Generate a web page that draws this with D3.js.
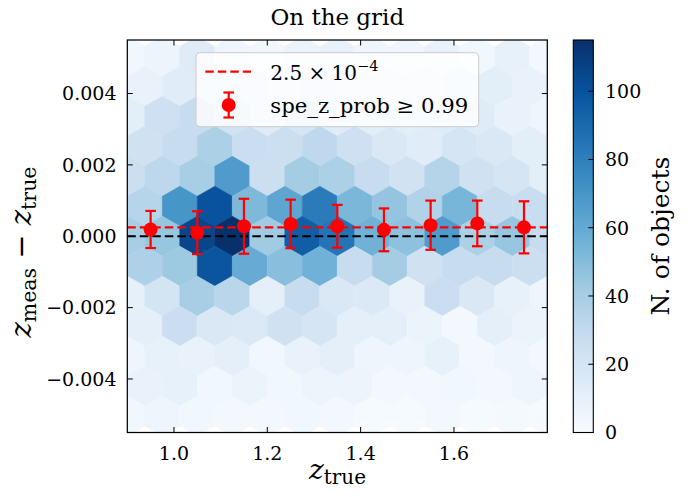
<!DOCTYPE html>
<html>
<head>
<meta charset="utf-8">
<script src="https://cdn.jsdelivr.net/npm/d3@7"></script>
<style>
  html, body { margin: 0; padding: 0; background: #ffffff; }
  svg { display: block; }
</style>
</head>
<body>
<svg id="chart" width="700" height="497"></svg>
<script>
// ---------------- data ----------------
const xTicks = [1.0, 1.2, 1.4, 1.6];
const yTicks = [0.004, 0.002, 0.0, -0.002, -0.004];
const cbarTicks = [0, 20, 40, 60, 80, 100];
const xDomain = [0.9, 1.8];
const yDomain = [-0.0055, 0.0055];
const countMax = 115;

// hexbin grid (data units)
const hexXMin = 0.9, hexXStep = 0.075;
const hexYMin = -0.00504, hexYStep = 0.00168;

// counts per hexagon row, from top row (k = 12) to bottom row (k = 0)
// even k: 13 cells at hexXMin + i*step ; odd k: 12 cells at hexXMin + (i+0.5)*step
const hexCounts = [
  [4, 6, 14, 5, 4, 7, 8, 5, 5, 8, 4, 9, 3],
  [8, 13, 12, 14, 10, 14, 10, 9, 11, 12, 12, 8],
  [12, 24, 28, 22, 14, 20, 14, 12, 12, 14, 14, 8, 5],
  [23, 28, 38, 26, 25, 31, 24, 17, 13, 20, 17, 12],
  [25, 32, 40, 67, 25, 41, 38, 28, 22, 35, 23, 20, 12],
  [34, 70, 100, 52, 62, 82, 53, 46, 36, 54, 28, 27],
  [40, 45, 106, 115, 42, 95, 85, 56, 48, 67, 38, 45, 28],
  [37, 43, 99, 59, 49, 56, 28, 41, 23, 28, 28, 25],
  [10, 21, 40, 33, 11, 28, 17, 16, 8, 26, 17, 9, 5],
  [11, 26, 17, 16, 23, 20, 11, 11, 7, 3, 11, 7],
  [5, 9, 8, 11, 4, 8, 11, 5, 5, 9, 3, 5, 3],
  [8, 9, 4, 7, 4, 6, 6, 3, 3, 4, 3, 5],
  [4, 5, 4, 3, 3, 4, 3, 1, 1, 3, 1, 2, 1]
];

// binned means with error bars
const pointX = [0.95, 1.05, 1.15, 1.25, 1.35, 1.45, 1.55, 1.65, 1.75];
const pointY = [0.00019, 0.0001, 0.00028, 0.000345, 0.00028, 0.00018, 0.00031, 0.00036, 0.00025];
const pointErr = [0.00052, 0.0006, 0.00077, 0.00068, 0.0006, 0.0006, 0.00069, 0.00064, 0.00073];
const refLineY = 0.00025;

// matplotlib "Blues"
const bluesColors = ["#f7fbff","#deebf7","#c6dbef","#9ecae1","#6baed6","#4292c6","#2171b5","#08519c","#08306b"];

// ---------------- layout ----------------
const FONT = "DejaVu Serif";
const svg = d3.select("#chart");
const L = 127.3, R = 547.3, T = 40, B = 432.5;
const x = d3.scaleLinear(xDomain, [L, R]);
const y = d3.scaleLinear(yDomain, [B, T]);
const color = d3.scaleLinear()
  .domain(bluesColors.map((c, i) => i / (bluesColors.length - 1) * countMax))
  .range(bluesColors)
  .interpolate(d3.interpolateRgb)
  .clamp(true);

const defs = svg.append("defs");
defs.append("clipPath").attr("id", "plotclip")
  .append("rect").attr("x", L).attr("y", T).attr("width", R - L).attr("height", B - T);

// ---------------- hexagons ----------------
const hexOffsets = [[0.5, -0.5], [0.5, 0.5], [0, 1], [-0.5, 0.5], [-0.5, -0.5], [0, -1]];
const hexData = [];
const nRows = hexCounts.length;
hexCounts.forEach((row, r) => {
  const k = nRows - 1 - r;
  const cy = hexYMin + k * hexYStep / 2;
  const shift = (k % 2 === 1) ? 0.5 : 0;
  row.forEach((c, i) => {
    hexData.push({ cx: hexXMin + (i + shift) * hexXStep, cy, c });
  });
});
const hexPath = d => "M" + hexOffsets.map(([ox, oy]) =>
  [x(d.cx + ox * hexXStep), y(d.cy + oy * hexYStep / 3)].join(",")).join("L") + "Z";
svg.append("g").attr("clip-path", "url(#plotclip)")
  .selectAll("path").data(hexData).join("path")
  .attr("d", hexPath)
  .attr("fill", d => color(d.c))
  .attr("stroke", d => color(d.c))
  .attr("stroke-width", 0.6);

// ---------------- lines ----------------
const gLines = svg.append("g").attr("clip-path", "url(#plotclip)");
gLines.append("line")
  .attr("x1", x(xDomain[0])).attr("x2", x(xDomain[1]))
  .attr("y1", y(0)).attr("y2", y(0))
  .attr("stroke", "#000").attr("stroke-width", 2).attr("stroke-dasharray", "8.5,4");
gLines.append("line")
  .attr("x1", x(xDomain[0])).attr("x2", x(xDomain[1]))
  .attr("y1", y(refLineY)).attr("y2", y(refLineY))
  .attr("stroke", "#ff0000").attr("stroke-width", 2.3).attr("stroke-dasharray", "8.5,4");

// ---------------- error bars ----------------
const pts = pointX.map((px, i) => ({ x: px, y: pointY[i], e: pointErr[i] }));
const gErr = svg.append("g");
const capW = 5.3;
gErr.selectAll("line.v").data(pts).join("line").attr("class", "v")
  .attr("x1", d => x(d.x)).attr("x2", d => x(d.x))
  .attr("y1", d => y(d.y - d.e)).attr("y2", d => y(d.y + d.e))
  .attr("stroke", "#ff0000").attr("stroke-width", 2.2);
gErr.selectAll("line.ct").data(pts).join("line").attr("class", "ct")
  .attr("x1", d => x(d.x) - capW).attr("x2", d => x(d.x) + capW)
  .attr("y1", d => y(d.y + d.e)).attr("y2", d => y(d.y + d.e))
  .attr("stroke", "#ff0000").attr("stroke-width", 2.2);
gErr.selectAll("line.cb").data(pts).join("line").attr("class", "cb")
  .attr("x1", d => x(d.x) - capW).attr("x2", d => x(d.x) + capW)
  .attr("y1", d => y(d.y - d.e)).attr("y2", d => y(d.y - d.e))
  .attr("stroke", "#ff0000").attr("stroke-width", 2.2);
gErr.selectAll("circle").data(pts).join("circle")
  .attr("cx", d => x(d.x)).attr("cy", d => y(d.y)).attr("r", 7)
  .attr("fill", "#ff0000");

// ---------------- frame & ticks ----------------
svg.append("rect").attr("x", L).attr("y", T).attr("width", R - L).attr("height", B - T)
  .attr("fill", "none").attr("stroke", "#000").attr("stroke-width", 1.25);

const tickLen = 5.5;
const gAx = svg.append("g");
const tickFont = 19;
xTicks.forEach(v => {
  gAx.append("line").attr("x1", x(v)).attr("x2", x(v)).attr("y1", B).attr("y2", B - tickLen)
    .attr("stroke", "#000").attr("stroke-width", 1);
  gAx.append("line").attr("x1", x(v)).attr("x2", x(v)).attr("y1", T).attr("y2", T + tickLen)
    .attr("stroke", "#000").attr("stroke-width", 1);
  gAx.append("text").attr("x", x(v)).attr("y", 459.5).attr("text-anchor", "middle")
    .attr("font-family", FONT).attr("font-size", tickFont).text(d3.format(".1f")(v));
});
const yFmt = v => (v < 0 ? "\u2212" : "") + d3.format(".3f")(Math.abs(v));
yTicks.forEach(v => {
  gAx.append("line").attr("x1", L).attr("x2", L + tickLen).attr("y1", y(v)).attr("y2", y(v))
    .attr("stroke", "#000").attr("stroke-width", 1);
  gAx.append("line").attr("x1", R).attr("x2", R - tickLen).attr("y1", y(v)).attr("y2", y(v))
    .attr("stroke", "#000").attr("stroke-width", 1);
  gAx.append("text").attr("x", 116.5).attr("y", y(v)).attr("dy", "0.36em")
    .attr("text-anchor", "end").attr("font-family", FONT).attr("font-size", tickFont).text(yFmt(v));
});

// axis labels
const xl = svg.append("text").attr("x", 337.5).attr("y", 478.5).attr("text-anchor", "middle")
  .attr("font-family", FONT);
xl.append("tspan").attr("font-style", "italic").attr("font-size", 28).text("z");
xl.append("tspan").attr("font-size", 20).attr("dy", 5).text("true");

const yl = svg.append("text").attr("transform", "translate(31,252) rotate(-90)")
  .attr("text-anchor", "middle").attr("font-family", FONT);
yl.append("tspan").attr("font-style", "italic").attr("font-size", 29).text("z");
yl.append("tspan").attr("font-size", 20.5).attr("dy", 5).text("meas");
yl.append("tspan").attr("font-size", 29).attr("dy", -5).text(" \u2212 ");
yl.append("tspan").attr("font-style", "italic").attr("font-size", 29).text("z");
yl.append("tspan").attr("font-size", 20.5).attr("dy", 5).text("true");

// title
svg.append("text").attr("x", 337.3).attr("y", 24.5).attr("text-anchor", "middle")
  .attr("font-family", FONT).attr("font-size", 23).text("On the grid");

// ---------------- legend ----------------
const gLeg = svg.append("g");
gLeg.append("rect").attr("x", 196).attr("y", 52.7).attr("width", 282.7).attr("height", 74)
  .attr("rx", 4).attr("fill", "#ffffff").attr("fill-opacity", 0.8)
  .attr("stroke", "#cccccc").attr("stroke-width", 1);
gLeg.append("line").attr("x1", 205.3).attr("x2", 251).attr("y1", 71.7).attr("y2", 71.7)
  .attr("stroke", "#ff0000").attr("stroke-width", 2.3).attr("stroke-dasharray", "8.5,4");
const t1 = gLeg.append("text").attr("x", 270.3).attr("y", 79.5).attr("font-size", 20)
  .attr("font-family", FONT);
t1.append("tspan").text("2.5 \u00d7 10");
t1.append("tspan").attr("font-size", 14.5).attr("dy", -9).text("\u22124");
const lx = 228.7, ly = 105;
gLeg.append("line").attr("x1", lx).attr("x2", lx).attr("y1", ly - 12.5).attr("y2", ly + 12.5)
  .attr("stroke", "#ff0000").attr("stroke-width", 2.2);
[ly - 12.5, ly + 12.5].forEach(yy => gLeg.append("line")
  .attr("x1", lx - capW).attr("x2", lx + capW).attr("y1", yy).attr("y2", yy)
  .attr("stroke", "#ff0000").attr("stroke-width", 2.2));
gLeg.append("circle").attr("cx", lx).attr("cy", ly).attr("r", 7).attr("fill", "#ff0000");
gLeg.append("text").attr("x", 270.3).attr("y", 113.3).attr("font-size", 20)
  .attr("font-family", FONT)
  .attr("textLength", 198).attr("lengthAdjust", "spacingAndGlyphs")
  .text("spe_z_prob \u2265 0.99");

// ---------------- colorbar ----------------
const CL = 573.3, CR = 593.3;
const cyS = d3.scaleLinear([0, countMax], [B, T]);
const grad = defs.append("linearGradient").attr("id", "cbgrad")
  .attr("x1", 0).attr("y1", 1).attr("x2", 0).attr("y2", 0);
bluesColors.forEach((c, i) => grad.append("stop")
  .attr("offset", i / (bluesColors.length - 1)).attr("stop-color", c));
svg.append("rect").attr("x", CL).attr("y", cyS(countMax)).attr("width", CR - CL)
  .attr("height", cyS(0) - cyS(countMax)).attr("fill", "url(#cbgrad)")
  .attr("stroke", "#000").attr("stroke-width", 1.1);
cbarTicks.forEach(v => {
  svg.append("line").attr("x1", CR).attr("x2", CR - 5).attr("y1", cyS(v)).attr("y2", cyS(v))
    .attr("stroke", "#000").attr("stroke-width", 1);
  svg.append("text").attr("x", 605).attr("y", cyS(v)).attr("dy", "0.36em")
    .attr("font-family", FONT).attr("font-size", tickFont).text(v);
});
svg.append("text").attr("transform", "translate(669,236) rotate(-90)")
  .attr("text-anchor", "middle").attr("font-family", FONT).attr("font-size", 25).text("N. of objects");
</script>
</body>
</html>
